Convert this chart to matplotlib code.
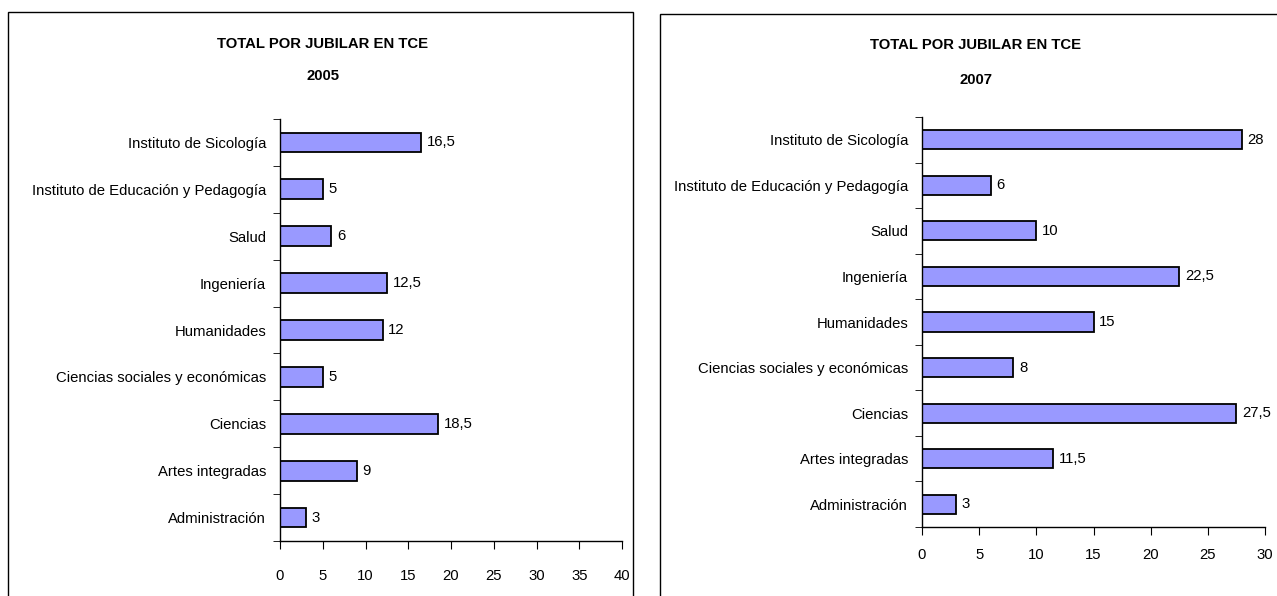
import numpy as np
import matplotlib.pyplot as plt
from matplotlib.patches import Rectangle

# categories, top to bottom as drawn
categorias = ['Instituto de Sicología', 'Instituto de Educación y Pedagogía', 'Salud',
              'Ingeniería', 'Humanidades', 'Ciencias sociales y económicas',
              'Ciencias', 'Artes integradas', 'Administración']
total_2005 = [16.5, 5, 6, 12.5, 12, 5, 18.5, 9, 3]
total_2007 = [28, 6, 10, 22.5, 15, 8, 27.5, 11.5, 3]
xticks_2005 = [0, 5, 10, 15, 20, 25, 30, 35, 40]
xticks_2007 = [0, 5, 10, 15, 20, 25, 30]

plt.rcParams['font.family'] = ['Liberation Sans', 'DejaVu Sans']
FS = 10.7


def fmt(v):
    return ('%g' % v).replace('.', ',')


def panel(fig, rect, vals, ticks, xmax, label_pad, year, title_x, y1, y2):
    ax = fig.add_axes(rect)
    y = np.arange(len(categorias))
    ax.barh(y, vals, height=0.42, color='#9999ff', edgecolor='black', linewidth=1.3)
    ax.set_ylim(len(categorias) - 0.5, -0.5)
    ax.set_xlim(0, xmax)
    ax.set_yticks(y)
    ax.set_yticklabels(categorias, fontsize=FS)
    ax.set_yticks(np.arange(-0.5, len(categorias)), minor=True)
    ax.tick_params(axis='y', which='major', length=0, pad=10)
    ax.tick_params(axis='y', which='minor', length=5, direction='out')
    ax.set_xticks(ticks)
    ax.set_xticklabels([str(t) for t in ticks], fontsize=FS)
    ax.tick_params(axis='x', length=6, direction='out', pad=label_pad)
    for s in ['top', 'right']:
        ax.spines[s].set_visible(False)
    for s in ['left', 'bottom']:
        ax.spines[s].set_color('black')
        ax.spines[s].set_linewidth(1.0)
    for yi, v in zip(y, vals):
        ax.annotate(fmt(v), (v, yi), xytext=(4, 0), textcoords='offset points',
                    va='center', ha='left', fontsize=FS)
    fig.text(title_x, y1, 'TOTAL POR JUBILAR EN TCE', ha='center', va='center',
             fontsize=10.7, fontweight='bold')
    fig.text(title_x, y2, year, ha='center', va='center', fontsize=10.7, fontweight='bold')
    return ax


fig = plt.figure(figsize=(12.77, 5.96), dpi=100)
W, H = 1277, 596

# chart frames
fig.patches.append(Rectangle((8 / W, -0.1), 625 / W, 1.1 - 12 / H, transform=fig.transFigure,
                             fill=False, edgecolor='black', linewidth=1.0))
fig.patches.append(Rectangle((660 / W, -0.1), 640 / W, 1.1 - 14 / H, transform=fig.transFigure,
                             fill=False, edgecolor='black', linewidth=1.0))

panel(fig, [280 / W, 1 - 541 / H, 342 / W, 422 / H], total_2005, xticks_2005, 40, 14,
      '2005', 323 / W, 1 - 44 / H, 1 - 76 / H)
panel(fig, [922 / W, 1 - 527 / H, 343 / W, 410 / H], total_2007, xticks_2007, 30, 9,
      '2007', 976 / W, 1 - 45 / H, 1 - 80 / H)

fig.savefig('out.png', dpi=100)
